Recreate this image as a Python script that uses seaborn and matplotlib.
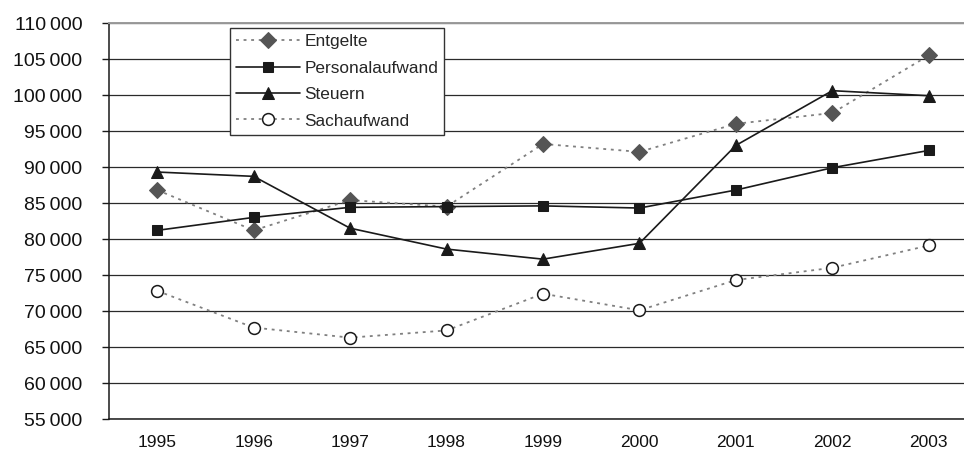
import matplotlib
matplotlib.use("Agg")
import matplotlib.pyplot as plt
import seaborn as sns
import pandas as pd
from matplotlib.ticker import FuncFormatter

years = ["1995", "1996", "1997", "1998", "1999", "2000", "2001", "2002", "2003"]
entgelte = [86800, 81200, 85400, 84500, 93200, 92100, 96000, 97500, 105500]
personalaufwand = [81200, 83000, 84400, 84500, 84600, 84300, 86800, 89900, 92300]
steuern = [89300, 88700, 81500, 78600, 77200, 79400, 93000, 100600, 99900]
sachaufwand = [72800, 67700, 66300, 67300, 72400, 70100, 74300, 76000, 79100]
series_names = ["Entgelte", "Personalaufwand", "Steuern", "Sachaufwand"]
y_ticks = list(range(55000, 110001, 5000))

sns.set_theme(style="white")
plt.rcParams["font.family"] = ["Liberation Sans", "DejaVu Sans"]

fig = plt.figure(figsize=(9.64, 4.5), dpi=100)
ax = fig.add_axes([109 / 964, 1 - 419 / 450, 868 / 964, 396 / 450])

pos = list(range(len(years)))
data = {
    "Entgelte": entgelte,
    "Personalaufwand": personalaufwand,
    "Steuern": steuern,
    "Sachaufwand": sachaufwand,
}
styles = {
    "Entgelte": dict(color="#808080", marker="D", markersize=8, markerfacecolor="#555555",
                     markeredgecolor="#555555", dashes=(1.6, 2.6), linewidth=1.3),
    "Personalaufwand": dict(color="#1a1a1a", marker="s", markersize=7, markerfacecolor="#1a1a1a",
                            markeredgecolor="#1a1a1a", linewidth=1.2),
    "Steuern": dict(color="#1a1a1a", marker="^", markersize=8.5, markerfacecolor="#1a1a1a",
                    markeredgecolor="#1a1a1a", linewidth=1.2),
    "Sachaufwand": dict(color="#808080", marker="o", markersize=8.5, markerfacecolor="white",
                        markeredgecolor="#1a1a1a", markeredgewidth=1.1, dashes=(1.6, 2.6), linewidth=1.3),
}

for name in series_names:
    df = pd.DataFrame({"x": pos, "y": data[name]})
    st = dict(styles[name])
    dashes = st.pop("dashes", None)
    sns.lineplot(data=df, x="x", y="y", ax=ax, label=name, **st)
    l = ax.get_lines()[-1]
    if dashes is not None:
        l.set_dashes(dashes)
    l.set_zorder(3)

ax.set_xlim(-0.5, len(years) - 0.5)
ax.set_ylim(55000, 110000)
ax.set_yticks(y_ticks)
ax.yaxis.set_major_formatter(FuncFormatter(lambda v, p: f"{int(v):,}".replace(",", "\u2009")))
ax.set_xticks(pos)
ax.set_xticklabels(years)
ax.set_xticks([p - 0.5 for p in pos] + [len(years) - 0.5], minor=True)
ax.tick_params(axis="x", which="major", length=0, pad=11.5, labelsize=12.5)
ax.tick_params(axis="x", which="minor", length=4, width=1, color="#1a1a1a", direction="out")
ax.tick_params(axis="y", which="major", length=5, width=1, color="#1a1a1a", pad=14, labelsize=14,
               direction="out", left=True)
ax.set_xlabel("")
ax.set_ylabel("")
ax.grid(axis="y", color="#2a2a2a", linewidth=0.9)
ax.grid(axis="x", visible=False)
for t in ax.get_yticklabels() + ax.get_xticklabels():
    t.set_color("#111111")

ax.spines["left"].set_color("#1a1a1a")
ax.spines["left"].set_linewidth(1.1)
ax.spines["bottom"].set_color("#1a1a1a")
ax.spines["bottom"].set_linewidth(1.1)
ax.spines["top"].set_color("#9a9a9a")
ax.spines["top"].set_linewidth(1.4)
ax.spines["right"].set_visible(False)

leg = ax.legend(loc="upper left", bbox_to_anchor=((230 - 109) / 868, (419 - 28) / 396),
                borderaxespad=0, frameon=True, fancybox=False, framealpha=1,
                edgecolor="#333333", fontsize=12.4, handlelength=3.7, handletextpad=0.25,
                labelspacing=0.66, borderpad=0.36)
leg.get_frame().set_linewidth(1.0)
leg.set_zorder(5)

fig.savefig("out.png", dpi=100)
